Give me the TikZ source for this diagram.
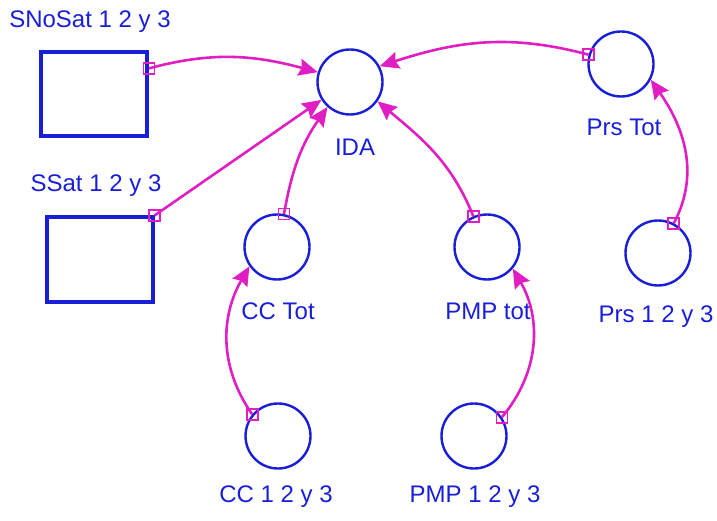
\documentclass[tikz,border=0pt]{standalone}
\usepackage{fontspec}
\setmainfont{Liberation Sans}
\usetikzlibrary{arrows.meta}
\definecolor{vblue}{RGB}{25,30,215}
\definecolor{vmag}{RGB}{225,30,195}
\tikzset{
  stockbox/.style={draw=vblue,line width=4pt,minimum width=106pt,minimum height=84pt,inner sep=0pt},
  auxcirc/.style={draw=vblue,line width=2.4pt,circle,minimum size=65pt,inner sep=0pt},
  lbl/.style={text=vblue,font=\fontsize{24pt}{26pt}\selectfont,inner sep=0pt},
  tapbox/.style={draw=vmag,line width=1.8pt,minimum size=11pt,inner sep=0pt,fill=none},
  link/.style={draw=vmag,line width=2.6pt,-{Stealth[length=19pt,width=17pt,inset=2.5pt]}}
}
\begin{document}
\begin{tikzpicture}[x=1pt,y=1pt]
\useasboundingbox (0,0) rectangle (717,520);
% stocks
\node[stockbox] (nosat) at (94,426) {};
\node[stockbox] (ssat) at (99.5,260.5) {};
\node[lbl] (nosatl) at (90,498) {SNoSat 1 2 y 3};
\node[lbl] (ssatl) at (96,334) {SSat 1 2 y 3};
% auxiliaries
\node[auxcirc] (ida) at (350,438) {};
\node[lbl] (idal) at (355,373) {IDA};
\node[auxcirc] (prstot) at (621,456) {};
\node[lbl] (prstotl) at (624,393) {Prs Tot};
\node[auxcirc] (cctot) at (277,273) {};
\node[lbl] (cctotl) at (278,209) {CC Tot};
\node[auxcirc] (pmptot) at (487,273) {};
\node[lbl] (pmptotl) at (488,209) {PMP tot};
\node[auxcirc] (prs) at (658,267) {};
\node[lbl] (prsl) at (656,203) {Prs 1 2 y 3};
\node[auxcirc] (cc) at (278,84) {};
\node[lbl] (ccl) at (276,23) {CC 1 2 y 3};
\node[auxcirc] (pmp) at (474,84) {};
\node[lbl] (pmpl) at (475,23) {PMP 1 2 y 3};
% connectors
\draw[link] (nosat.25) to[out=15,in=165] (ida.163);
\draw[link] (ssat.north east) -- (ida.212);
\draw[link] (cctot.78) to[out=80,in=235] (ida.228);
\draw[link] (pmptot.114) to[out=112,in=-40] (ida.-35);
\draw[link] (prstot.164) to[out=165,in=18] (ida.28);
\draw[link] (prs.62) to[out=62,in=-55] (prstot.-28);
\draw[link] (cc.140) to[out=125,in=240] (cctot.215);
\draw[link] (pmp.34) to[out=50,in=-60] (pmptot.-40);
% taps
\node[tapbox] (t1) at (nosat.25) {};
\node[tapbox] (t2) at (ssat.north east) {};
\node[tapbox] (t3) at (cctot.78) {};
\node[tapbox] (t4) at (pmptot.114) {};
\node[tapbox] (t5) at (prstot.164) {};
\node[tapbox] (t6) at (prs.62) {};
\node[tapbox] (t7) at (cc.140) {};
\node[tapbox] (t8) at (pmp.34) {};
\end{tikzpicture}
\end{document}
